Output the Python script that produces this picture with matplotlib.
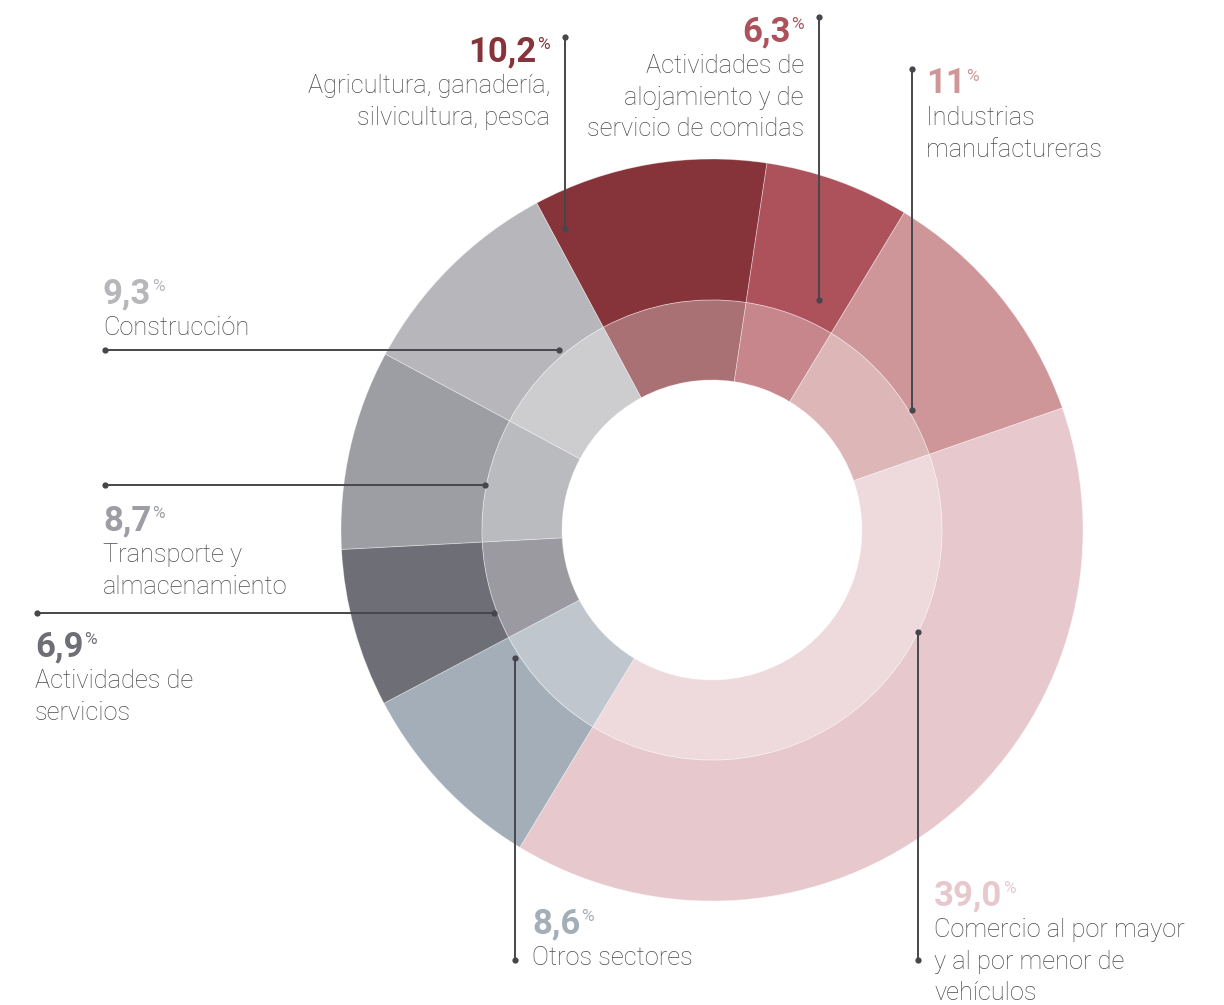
import numpy as np
import matplotlib
matplotlib.use("Agg")
import matplotlib.pyplot as plt
from matplotlib.colors import to_rgb

plt.rcParams['font.family'] = ['Roboto', 'DejaVu Sans']

# -------------------------------------------------------------
# Data (clockwise from the top-left boundary)
# -------------------------------------------------------------
sectors = ['Agricultura, ganadería,\nsilvicultura, pesca',
           'Actividades de\nalojamiento y de\nservicio de comidas',
           'Industrias\nmanufactureras',
           'Comercio al por mayor\ny al por menor de\nvehículos',
           'Otros sectores',
           'Actividades de\nservicios',
           'Transporte y\nalmacenamiento',
           'Construcción']
shares = [10.2, 6.3, 11.0, 39.0, 8.6, 6.9, 8.7, 9.3]
share_labels = ['10,2', '6,3', '11', '39,0', '8,6', '6,9', '8,7', '9,3']
colors = ['#86343a', '#ad525b', '#cf969a', '#e7c9cd',
          '#a4aeb8', '#6e6e77', '#9d9ea3', '#b7b6bb']

# -------------------------------------------------------------
# Layout (pixels, origin top-left)
# -------------------------------------------------------------
W, H = 1224, 1005
cx, cy = 712, 530
r_out, r_mid, r_in = 371, 230, 150
text_col = '#4a4a4e'
line_col = '#46464c'

# label anchor: x, baseline of the percentage, alignment
label_pos = [(550, 61, 'right'), (804, 41, 'right'), (926, 93, 'left'),
             (934, 905, 'left'), (532, 933, 'left'), (35, 656, 'left'),
             (103, 530, 'left'), (103, 303, 'left')]
# leader lines: x0, y0, x1, y1
leaders = [(565, 37, 565, 229), (819, 17, 819, 300), (912, 69, 912, 410),
           (918, 632, 918, 960), (515, 658, 515, 960), (37, 613, 494, 613),
           (105, 485, 485, 485), (105, 350, 559, 350)]
line_gap = 31.5


def lighten(c, a=0.3):
    rgb = np.array(to_rgb(c))
    return tuple(rgb + (1 - rgb) * a)


fig = plt.figure(figsize=(W / 100, H / 100), dpi=100)
ax = fig.add_axes([0, 0, 1, 1])

wedge_kw = dict(edgecolor=(1, 1, 1, 0.4), linewidth=0.6)
ax.pie(shares, colors=colors, radius=r_out, center=(cx, H - cy),
       startangle=118.2, counterclock=False,
       wedgeprops=dict(width=r_out - r_mid, **wedge_kw))
ax.pie(shares, colors=[lighten(c) for c in colors], radius=r_mid,
       center=(cx, H - cy), startangle=118.2, counterclock=False,
       wedgeprops=dict(width=r_mid - r_in, **wedge_kw))

ax.set_xlim(0, W)
ax.set_ylim(0, H)
ax.set_aspect('equal')
ax.axis('off')

# leader lines with dots at both ends
for x0, y0, x1, y1 in leaders:
    ax.plot([x0, x1], [H - y0, H - y1], color=line_col, lw=1.4,
            solid_capstyle='butt', zorder=5)
    ax.plot([x0, x1], [H - y0, H - y1], 'o', color=line_col, ms=4.5,
            mec='none', zorder=6)

fig.canvas.draw()
renderer = fig.canvas.get_renderer()

pct_size = 25
sup_size = 12.5
desc_size = 18.3

for (x, yb, ha), lab, desc, col in zip(label_pos, share_labels, sectors, colors):
    if ha == 'left':
        t = ax.text(x, H - yb, lab, fontsize=pct_size, fontweight='bold',
                    color=col, ha='left', va='baseline')
        bb = t.get_window_extent(renderer)
        ax.text(bb.x1 + 0.5, H - yb + 12, '%', fontsize=sup_size,
                color=col, ha='left', va='baseline')
    else:
        s = ax.text(x, H - yb + 12, '%', fontsize=sup_size,
                    color=col, ha='right', va='baseline')
        bb = s.get_window_extent(renderer)
        ax.text(bb.x0 - 0.5, H - yb, lab, fontsize=pct_size, fontweight='bold',
                color=col, ha='right', va='baseline')
    for i, line in enumerate(desc.split('\n')):
        ax.text(x, H - (yb + 32 + i * line_gap), line, fontsize=desc_size,
                fontweight='light', color=text_col, ha=ha, va='baseline')

fig.savefig('out.png', dpi=100)
